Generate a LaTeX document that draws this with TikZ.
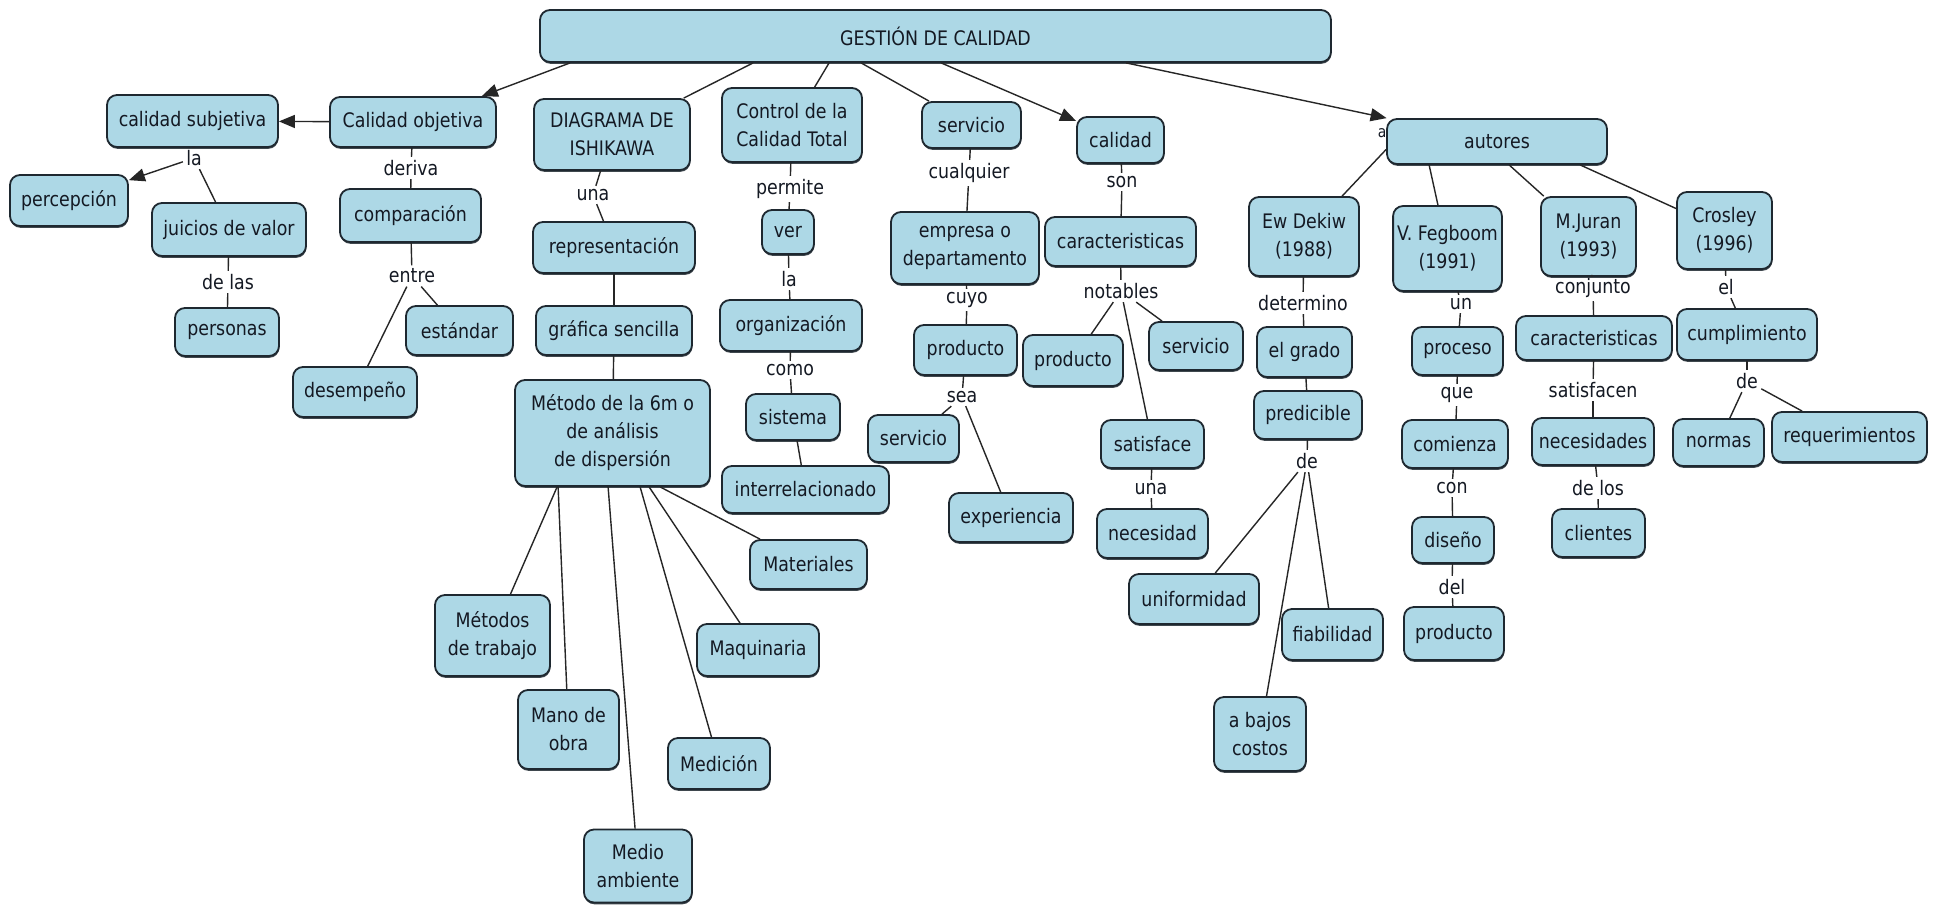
\documentclass[tikz,border=0pt]{standalone}
\usepackage{fontspec}
\newfontfamily\cmfont[FakeStretch=0.87]{DejaVu Sans}
\usetikzlibrary{arrows.meta,calc,shadows}
\definecolor{boxfill}{RGB}{173,216,230}
\definecolor{boxline}{RGB}{30,40,48}
\definecolor{txt}{RGB}{20,25,35}
\begin{document}
\begin{tikzpicture}[x=0.5pt,y=-0.5pt,
 concept/.style={draw=boxline, line width=0.9pt, fill=boxfill, rounded corners=5pt, text=txt, align=center,
   font=\cmfont\fontsize{10}{14}\selectfont, inner xsep=2pt, inner ysep=2pt,
   drop shadow={shadow xshift=0.2pt, shadow yshift=-0.9pt, fill=boxline, opacity=0.85}},
 sz/.style 2 args={minimum width=#1*0.5pt, minimum height=#2*0.5pt},
 phrase/.style={text=txt, font=\cmfont\fontsize{10}{12}\selectfont, inner sep=1.5pt},
 link/.style={draw=black!85, line width=0.7pt},
 arr/.style={link, -{Triangle[length=8pt,width=6.5pt]}},
]
\useasboundingbox (0,0) rectangle (1933,906);
\fill[white] (0,0) rectangle (1933,906);

\node[phrase, font=\cmfont\fontsize{8}{10}\selectfont] (aa) at (1382,133) {a};

% concepts
\node[concept, sz={791}{52}] (gestion) at (935.5,36) {GESTIÓN DE CALIDAD};
\node[concept, sz={171}{52}] (csub) at (192.5,121) {calidad subjetiva};
\node[concept, sz={166}{50}] (cobj) at (413,122) {Calidad objetiva};
\node[concept, sz={156}{71}] (ishi) at (612,134.5) {DIAGRAMA DE\\ISHIKAWA};
\node[concept, sz={140}{74}] (ctrl) at (792,125) {Control de la\\Calidad Total};
\node[concept, sz={99}{46}] (serv1) at (971.5,125) {servicio};
\node[concept, sz={87}{46}] (calidad) at (1120.5,140) {calidad};
\node[concept, sz={220}{45}] (autores) at (1497,141.5) {autores};
\node[concept, sz={118}{51}] (percep) at (69,200.5) {percepción};
\node[concept, sz={154}{53}] (juicios) at (229,229.5) {juicios de valor};
\node[concept, sz={104}{48}] (personas) at (227,332) {personas};
\node[concept, sz={141}{53}] (compar) at (410.5,215.5) {comparación};
\node[concept, sz={107}{49}] (estandar) at (459.5,330.5) {estándar};
\node[concept, sz={124}{50}] (desemp) at (355,392) {desempeño};
\node[concept, sz={162}{51}] (repres) at (614,247.5) {representación};
\node[concept, sz={156}{49}] (grafica) at (614,330.5) {gráfica sencilla};
\node[concept, sz={195}{106}] (metodo) at (612.5,433) {Método de la 6m o\\de análisis\\de dispersión};
\node[concept, sz={52}{44}] (ver) at (788,232) {ver};
\node[concept, sz={142}{51}] (organiz) at (791,325.5) {organización};
\node[concept, sz={94}{46}] (sistema) at (793,417) {sistema};
\node[concept, sz={167}{47}] (interrel) at (805.5,489.5) {interrelacionado};
\node[concept, sz={148}{72}] (empresa) at (965,248) {empresa o\\departamento};
\node[concept, sz={103}{50}] (prod1) at (965.5,350) {producto};
\node[concept, sz={91}{47}] (serv2) at (913.5,438.5) {servicio};
\node[concept, sz={124}{49}] (exper) at (1011,517.5) {experiencia};
\node[concept, sz={151}{49}] (caract1) at (1120.5,241.5) {caracteristicas};
\node[concept, sz={100}{51}] (prod2) at (1073,360.5) {producto};
\node[concept, sz={94}{48}] (serv3) at (1196,346) {servicio};
\node[concept, sz={103}{48}] (satisf) at (1152.5,444) {satisface};
\node[concept, sz={111}{49}] (necesidad) at (1152.5,533.5) {necesidad};
\node[concept, sz={110}{79}] (dekiw) at (1304,236.5) {Ew Dekiw\\(1988)};
\node[concept, sz={95}{50}] (grado) at (1304.5,352) {el grado};
\node[concept, sz={108}{48}] (predic) at (1308,415) {predicible};
\node[concept, sz={130}{50}] (uniform) at (1194,599) {uniformidad};
\node[concept, sz={101}{51}] (fiab) at (1332.5,634.5) {fiabilidad};
\node[concept, sz={92}{74}] (bajos) at (1260,734) {a bajos\\costos};
\node[concept, sz={103}{85}] (fegboom) at (1447.5,248.5) {V. Fegboom\\(1991)};
\node[concept, sz={91}{48}] (proceso) at (1457.5,351) {proceso};
\node[concept, sz={106}{48}] (comienza) at (1455,444) {comienza};
\node[concept, sz={82}{46}] (diseno) at (1453,540) {diseño};
\node[concept, sz={100}{53}] (prod3) at (1454,633.5) {producto};
\node[concept, sz={95}{79}] (juran) at (1588.5,236.5) {M.Juran\\(1993)};
\node[concept, sz={156}{44}] (caract2) at (1594,338) {caracteristicas};
\node[concept, sz={122}{47}] (necesid) at (1593,441.5) {necesidades};
\node[concept, sz={93}{48}] (clientes) at (1598.5,533) {clientes};
\node[concept, sz={95}{77}] (crosley) at (1724.5,230.5) {Crosley\\(1996)};
\node[concept, sz={140}{51}] (cumpl) at (1747,334.5) {cumplimiento};
\node[concept, sz={91}{47}] (normas) at (1718.5,442.5) {normas};
\node[concept, sz={155}{50}] (requer) at (1849.5,437) {requerimientos};
\node[concept, sz={115}{81}] (mtrab) at (492.5,635.5) {Métodos\\de trabajo};
\node[concept, sz={101}{79}] (mano) at (568.5,729.5) {Mano de\\obra};
\node[concept, sz={108}{73}] (medio) at (638,866) {Medio\\ambiente};
\node[concept, sz={102}{51}] (medicion) at (719,763.5) {Medición};
\node[concept, sz={122}{52}] (maquin) at (758,650) {Maquinaria};
\node[concept, sz={117}{49}] (mater) at (808.5,564.5) {Materiales};

% linking phrases
\node[phrase] (la1) at (194,158) {la};
\node[phrase] (delas) at (228,282) {de las};
\node[phrase] (deriva) at (411,168) {deriva};
\node[phrase] (entre) at (412,276) {entre};
\node[phrase] (una1) at (593,195) {una};
\node[phrase] (permite) at (790,189) {permite};
\node[phrase] (la2) at (789,279) {la};
\node[phrase] (como) at (790,370) {como};
\node[phrase] (cualquier) at (969,173) {cualquier};
\node[phrase] (cuyo) at (967,300) {cuyo};
\node[phrase] (sea) at (962,397) {sea};
\node[phrase] (son) at (1122,182) {son};
\node[phrase] (notables) at (1121,291) {notables};
\node[phrase] (una2) at (1151,489) {una};
\node[phrase] (determino) at (1303,303) {determino};
\node[phrase] (de1) at (1307,461) {de};
\node[phrase] (un) at (1461,304) {un};
\node[phrase] (que) at (1457,395) {que};
\node[phrase] (con) at (1452,488) {con};
\node[phrase] (del) at (1452,587) {del};
\node[phrase] (conjunto) at (1593,288) {conjunto};
\node[phrase] (satisfacen) at (1593,390) {satisfacen};
\node[phrase] (delos) at (1598,488) {de los};
\node[phrase] (el) at (1726,287) {el};
\node[phrase] (de2) at (1747,381) {de};

% connectors from the root
\draw[arr] ($(gestion.south west)+(31,0)$) -- (cobj);
\draw[link] ($(gestion.south west)+(214,0)$) -- (ishi);
\draw[link] ($(gestion.south west)+(290,0)$) -- (ctrl);
\draw[link] ($(gestion.south west)+(322,0)$) -- (serv1);
\draw[arr] ($(gestion.south west)+(402,0)$) -- (calidad);
\draw[arr] ($(gestion.south west)+(587,0)$) -- (autores);

% calidad objetiva / subjetiva
\draw[arr] (cobj) -- (csub);
\draw[link] (csub) -- (la1);
\draw[arr] (la1) -- (percep);
\draw[link] (la1) -- (juicios);
\draw[link] (juicios) -- (delas);
\draw[link] (delas) -- (personas);
\draw[link] (cobj) -- (deriva);
\draw[link] (deriva) -- (compar);
\draw[link] (compar) -- (entre);
\draw[link] (entre) -- (desemp);
\draw[link] (entre) -- (estandar);

% Ishikawa
\draw[link] (ishi) -- (una1);
\draw[link] (una1) -- (repres);
\draw[link, line width=1.1pt] (repres) -- (grafica);
\draw[link] (grafica) -- (metodo);
\draw[link] ($(metodo.south west)+(43,0)$) -- (mtrab);
\draw[link] ($(metodo.south west)+(44,0)$) -- (mano);
\draw[link] ($(metodo.south west)+(94,0)$) -- (medio);
\draw[link] ($(metodo.south west)+(126,0)$) -- (medicion);
\draw[link] ($(metodo.south west)+(135,0)$) -- (maquin);
\draw[link] ($(metodo.south west)+(146,0)$) -- (mater);

% Control de la calidad total
\draw[link] (ctrl) -- (permite);
\draw[link] (permite) -- (ver);
\draw[link] (ver) -- (la2);
\draw[link] (la2) -- (organiz);
\draw[link] (organiz) -- (como);
\draw[link] (como) -- (sistema);
\draw[link] (sistema) -- (interrel);

% servicio
\draw[link] (serv1) -- (cualquier);
\draw[link] (cualquier) -- (empresa);
\draw[link] (empresa) -- (cuyo);
\draw[link] (cuyo) -- (prod1);
\draw[link] (prod1) -- (sea);
\draw[link] (sea) -- (serv2);
\draw[link] (sea) -- (exper);

% calidad
\draw[link] (calidad) -- (son);
\draw[link] (son) -- (caract1);
\draw[link] (caract1) -- (notables);
\draw[link] (notables) -- (prod2);
\draw[link] (notables) -- (serv3);
\draw[link] (notables) -- (satisf);
\draw[link] (satisf) -- (una2);
\draw[link] (una2) -- (necesidad);

% autores
\draw[link] ($(autores.west)+(0,8)$) -- (dekiw);
\draw[link] ($(autores.south west)+(43,0)$) -- (fegboom);
\draw[link] ($(autores.south west)+(123,0)$) -- (juran);
\draw[link] ($(autores.south west)+(194,0)$) -- (crosley);

\draw[link] (dekiw) -- (determino);
\draw[link] (determino) -- (grado);
\draw[link] (grado) -- (predic);
\draw[link] (predic) -- (de1);
\draw[link] (de1) -- (uniform);
\draw[link] (de1) -- (fiab);
\draw[link] (de1) -- (bajos);

\draw[link] (fegboom) -- (un);
\draw[link] (un) -- (proceso);
\draw[link] (proceso) -- (que);
\draw[link] (que) -- (comienza);
\draw[link] (comienza) -- (con);
\draw[link] (con) -- (diseno);
\draw[link] (diseno) -- (del);
\draw[link] (del) -- (prod3);

\draw[link] (juran) -- (conjunto);
\draw[link] (conjunto) -- (caract2);
\draw[link] (caract2) -- (satisfacen);
\draw[link] (satisfacen) -- (necesid);
\draw[link] (necesid) -- (delos);
\draw[link] (delos) -- (clientes);

\draw[link] (crosley) -- (el);
\draw[link] (el) -- (cumpl);
\draw[link] (cumpl) -- (de2);
\draw[link] (de2) -- (normas);
\draw[link] (de2) -- (requer);
\end{tikzpicture}
\end{document}
